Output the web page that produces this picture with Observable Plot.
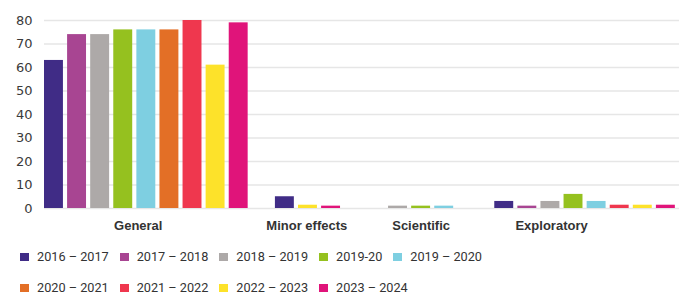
<!DOCTYPE html>
<html>
<head>
<meta charset="utf-8">
<script src="https://cdn.jsdelivr.net/npm/d3@7"></script>
<script src="https://cdn.jsdelivr.net/npm/@observablehq/plot@0.6"></script>
<style>
  html, body { margin: 0; padding: 0; background: #fff; }
  #chart { width: 682px; }
  .legend { display: flex; flex-wrap: wrap; column-gap: 11px; row-gap: 15px; width: 520px; padding: 11px 0 0 20px; font-family: Roboto, sans-serif; font-size: 12.7px; line-height: 16px; color: #333; }
  .legend .item { display: flex; align-items: center; }
  .legend .sw { width: 9px; height: 8px; margin-right: 8px; }
</style>
</head>
<body>
<div id="chart"></div>
<script>
// ---- data ----
const categories = ["General", "Minor effects", "Scientific", "Exploratory"];
const years = ["2016 – 2017", "2017 – 2018", "2018 – 2019", "2019-20", "2019 – 2020", "2020 – 2021", "2021 – 2022", "2022 – 2023", "2023 – 2024"];
const colors = ["#402c86", "#a84592", "#ada9a8", "#95c11f", "#7ecfe1", "#e36f26", "#ef374e", "#fde22a", "#e0147a"];
const general      = [63, 74, 74, 76, 76, 76, 80, 61, 79];
const minorEffects = [5, 0, 0, 0, 0, 0, 0, 1.4, 1];
const scientific   = [0, 0, 1, 1, 1, 0, 0, 0, 0];
const exploratory  = [3, 1, 3, 6, 3, 0, 1.4, 1.4, 1.4];
const yTicks = [0, 10, 20, 30, 40, 50, 60, 70, 80];

// ---- layout (slot units) ----
const valuesByCat = [general, minorEffects, scientific, exploratory];
const gapBefore = [0, 1, 1.9, 1.6];
const barFrac = 0.82;
const labelShift = [-0.35, -0.05, 0, -1.45];

const bars = [];
const labels = [];
let slot = 0;
categories.forEach((cat, ci) => {
  slot += gapBefore[ci];
  const start = slot;
  valuesByCat[ci].forEach((v, si) => {
    if (v > 0) {
      bars.push({cat, year: years[si], value: v, x1: slot, x2: slot + barFrac});
      slot += 1;
    }
  });
  const end = slot - 1 + barFrac;
  labels.push({cat, x: (start + end) / 2 + labelShift[ci]});
});

const chart = Plot.plot({
  width: 682,
  height: 238,
  marginLeft: 44,
  marginRight: 3,
  marginTop: 20,
  marginBottom: 30,
  style: {fontFamily: "DejaVu Sans, sans-serif", background: "#fff"},
  x: {domain: [0, 27.5], axis: null},
  y: {domain: [0, 80], axis: null},
  color: {domain: years, range: colors},
  marks: [
    Plot.ruleY(yTicks, {stroke: "#e6e6e6", strokeWidth: 1.5}),
    Plot.axisY({ticks: yTicks, tickSize: 0, tickPadding: 12, fontSize: 13, fill: "#3a3a3a", label: null}),
    Plot.rectY(bars, {x1: "x1", x2: "x2", y1: 0, y2: "value", fill: "year"}),
    Plot.text(labels, {x: "x", y: 0, text: "cat", dy: 17, fontFamily: "Liberation Sans, Arial, sans-serif", fontWeight: "bold", fontSize: 13, fill: "#333"})
  ]
});
document.getElementById("chart").appendChild(chart);

const legend = document.createElement("div");
legend.className = "legend";
years.forEach((y, i) => {
  const it = document.createElement("div");
  it.className = "item";
  const sw = document.createElement("span");
  sw.className = "sw";
  sw.style.background = colors[i];
  it.appendChild(sw);
  it.appendChild(document.createTextNode(y));
  legend.appendChild(it);
});
document.getElementById("chart").appendChild(legend);
</script>
</body>
</html>
